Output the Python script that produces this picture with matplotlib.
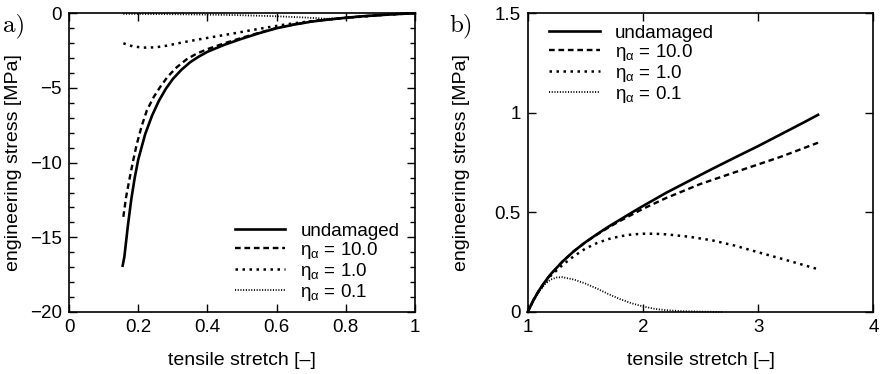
"""Engineering stress vs tensile stretch: a) compression, b) tension."""

import matplotlib

matplotlib.use("Agg")
import matplotlib.pyplot as plt
from matplotlib.ticker import MultipleLocator

plt.rcParams["font.family"] = ["Liberation Sans", "DejaVu Sans"]
plt.rcParams["mathtext.default"] = "regular"

# --- data ---
labels = ["undamaged", r"$\eta_\alpha$ = 10.0", r"$\eta_\alpha$ = 1.0", r"$\eta_\alpha$ = 0.1"]

# a) compression
a_undam_x = [0.155, 0.16, 0.17, 0.18, 0.19, 0.2, 0.22, 0.24, 0.26, 0.28, 0.3, 0.325, 0.35, 0.375,
             0.4, 0.45, 0.5, 0.55, 0.6, 0.65, 0.7, 0.75, 0.8, 0.85, 0.9, 0.95, 1.0]
a_undam_y = [-16.9, -16.3, -14.25, -12.45, -11.0, -9.8, -8.1, -6.85, -5.85, -5.05, -4.4, -3.78, -3.28, -2.9,
             -2.58, -2.1, -1.7, -1.33, -1.0, -0.76, -0.56, -0.42, -0.3, -0.2, -0.12, -0.05, 0.0]
a_eta10_x = [0.157, 0.165, 0.176, 0.186, 0.196, 0.21, 0.225, 0.245, 0.263, 0.285, 0.311, 0.34, 0.369,
             0.4, 0.45, 0.5, 0.55, 0.6, 0.65, 0.7, 0.75, 0.8, 0.85, 0.9, 0.95, 1.0]
a_eta10_y = [-13.63, -12.3, -10.95, -9.8, -8.75, -7.55, -6.5, -5.6, -4.95, -4.25, -3.62, -3.08, -2.7,
             -2.4, -2.0, -1.64, -1.3, -0.98, -0.75, -0.55, -0.41, -0.3, -0.2, -0.12, -0.05, 0.0]
a_eta1_x = [0.157, 0.185, 0.215, 0.25, 0.28, 0.33, 0.38, 0.43, 0.48, 0.52, 0.57, 0.62, 0.67, 0.72,
            0.77, 0.82, 0.9, 0.95, 1.0]
a_eta1_y = [-2.01, -2.22, -2.3, -2.28, -2.18, -1.94, -1.73, -1.53, -1.33, -1.16, -0.96, -0.77, -0.61, -0.48,
            -0.37, -0.27, -0.13, -0.05, 0.0]
a_eta01_x = [0.157, 0.3, 0.4, 0.5, 0.6, 0.68, 0.745, 0.8, 0.85, 0.9, 0.95, 1.0]
a_eta01_y = [-0.04, -0.06, -0.09, -0.13, -0.2, -0.28, -0.37, -0.3, -0.2, -0.12, -0.05, 0.0]

# b) tension
b_undam_x = [1.0, 1.05, 1.1, 1.15, 1.2, 1.3, 1.4, 1.5, 1.6, 1.7, 1.8, 1.9, 2.0, 2.2, 2.4, 2.6, 2.8,
             3.0, 3.2, 3.4, 3.52]
b_undam_y = [0.0, 0.06, 0.11, 0.152, 0.19, 0.252, 0.305, 0.35, 0.39, 0.428, 0.463, 0.498, 0.532, 0.598,
             0.658, 0.718, 0.776, 0.833, 0.893, 0.953, 0.99]
b_eta10_x = [1.0, 1.05, 1.1, 1.15, 1.2, 1.3, 1.4, 1.5, 1.6, 1.7, 1.8, 2.0, 2.2, 2.5, 2.8, 3.0, 3.2, 3.52]
b_eta10_y = [0.0, 0.06, 0.11, 0.152, 0.19, 0.252, 0.305, 0.35, 0.388, 0.424, 0.457, 0.518, 0.572, 0.643,
             0.702, 0.741, 0.78, 0.85]
b_eta1_x = [1.0, 1.05, 1.1, 1.15, 1.2, 1.3, 1.4, 1.5, 1.6, 1.7, 1.8, 1.9, 2.0, 2.1, 2.2, 2.4, 2.6,
            2.8, 3.0, 3.2, 3.52]
b_eta1_y = [0.0, 0.06, 0.108, 0.148, 0.182, 0.235, 0.28, 0.318, 0.346, 0.366, 0.38, 0.389, 0.393, 0.393,
            0.39, 0.378, 0.36, 0.333, 0.3, 0.268, 0.215]
b_eta01_x = [1.0, 1.05, 1.1, 1.15, 1.2, 1.25, 1.3, 1.4, 1.5, 1.6, 1.7, 1.8, 1.9, 2.0, 2.1, 2.2,
             2.35, 2.5, 2.7]
b_eta01_y = [0.0, 0.058, 0.103, 0.14, 0.163, 0.173, 0.175, 0.163, 0.143, 0.118, 0.09, 0.065, 0.044, 0.028,
             0.016, 0.009, 0.004, 0.002, 0.0]

a_xticks = [0, 0.2, 0.4, 0.6, 0.8, 1]
a_xticklabels = ["0", "0.2", "0.4", "0.6", "0.8", "1"]
a_yticks = [0, -5, -10, -15, -20]
a_yticklabels = ["0", "\u22125", "\u221210", "\u221215", "\u221220"]
b_xticks = [1, 2, 3, 4]
b_xticklabels = ["1", "2", "3", "4"]
b_yticks = [0, 0.5, 1, 1.5]
b_yticklabels = ["0", "0.5", "1", "1.5"]

styles = [
    dict(color="black", lw=1.9, linestyle="-"),
    dict(color="black", lw=1.7, linestyle=(0, (2.4, 1.6))),
    dict(color="black", lw=1.8, linestyle=(0, (1.0, 1.8))),
    dict(color="black", lw=1.3, linestyle=(0, (0.6, 0.9))),
]

FS = 13.5

fig = plt.figure(figsize=(8.86, 3.74), dpi=100)
ax_a = fig.add_axes([0.0779, 0.1658, 0.3905, 0.7987])
ax_b = fig.add_axes([0.5956, 0.1658, 0.3901, 0.7987])


def style_axes(ax):
    for s in ax.spines.values():
        s.set_linewidth(1.2)
    ax.tick_params(which="both", direction="in", top=True, right=True,
                   labelsize=FS, width=1.0, pad=5)
    ax.tick_params(which="major", length=6)
    ax.tick_params(which="minor", length=3.5)
    ax.set_xlabel("tensile stretch [\u2013]", fontsize=14)
    ax.set_ylabel("engineering stress [MPa]", fontsize=14)


# a)
series_a = [(a_undam_x, a_undam_y), (a_eta10_x, a_eta10_y), (a_eta1_x, a_eta1_y), (a_eta01_x, a_eta01_y)]
for (xs, ys), lab, st in zip(series_a, labels, styles):
    ax_a.plot(xs, ys, label=lab, clip_on=False, **st)
ax_a.set_xlim(0, 1)
ax_a.set_ylim(-20, 0)
ax_a.set_xticks(a_xticks, a_xticklabels)
ax_a.set_yticks(a_yticks, a_yticklabels)
ax_a.yaxis.set_minor_locator(MultipleLocator(1))
style_axes(ax_a)
ax_a.yaxis.set_label_coords(-0.136, 0.5)
ax_a.xaxis.set_label_coords(0.5, -0.134)
ax_a.legend(loc="lower right", bbox_to_anchor=(0.955, 0.03), frameon=False,
            fontsize=FS, handlelength=2.7, handletextpad=0.8, labelspacing=0.0,
            borderpad=0, borderaxespad=0)

# b)
series_b = [(b_undam_x, b_undam_y), (b_eta10_x, b_eta10_y), (b_eta1_x, b_eta1_y), (b_eta01_x, b_eta01_y)]
for (xs, ys), lab, st in zip(series_b, labels, styles):
    ax_b.plot(xs, ys, label=lab, clip_on=False, **st)
ax_b.set_xlim(1, 4)
ax_b.set_ylim(0, 1.5)
ax_b.set_xticks(b_xticks, b_xticklabels)
ax_b.set_yticks(b_yticks, b_yticklabels)
style_axes(ax_b)
ax_b.yaxis.set_label_coords(-0.167, 0.5)
ax_b.xaxis.set_label_coords(0.5, -0.134)
ax_b.legend(loc="upper left", bbox_to_anchor=(0.062, 0.962), frameon=False,
            fontsize=FS, handlelength=2.7, handletextpad=0.8, labelspacing=0.0,
            borderpad=0, borderaxespad=0)

fig.text(0.003, 0.965, "a)", family="cmr10", fontsize=18, va="top")
fig.text(0.507, 0.965, "b)", family="cmr10", fontsize=18, va="top")

fig.savefig("out.png", dpi=100)
